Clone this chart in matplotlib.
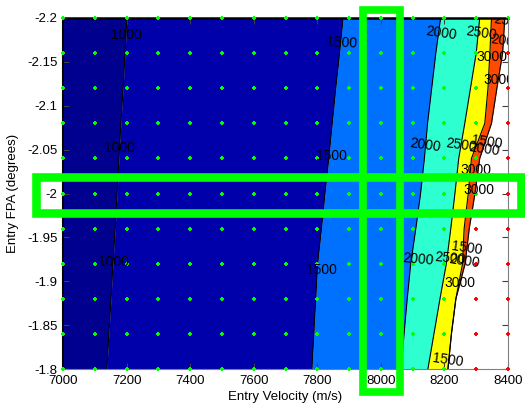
import matplotlib
matplotlib.use('Agg')
import matplotlib.pyplot as plt
from matplotlib.patches import Rectangle

plt.rcParams['font.family'] = ['Liberation Sans', 'DejaVu Sans']

# sample grid (dots)
velocity = [7000, 7100, 7200, 7300, 7400, 7500, 7600, 7700,
            7800, 7900, 8000, 8100, 8200, 8300, 8400]
fpa = [-2.2, -2.16, -2.12, -2.08, -2.04, -2.0, -1.96, -1.92, -1.88, -1.84, -1.8]
# number of converged cases in each fpa row (rest are failures, red)
n_ok = [15, 14, 14, 14, 14, 14, 13, 13, 13, 13, 13]

# contour crossings (entry velocity) for each fpa row
c1000 = [7201, 7195, 7189, 7182, 7176, 7170, 7164, 7157, 7151, 7144, 7138]
c1500 = [7881, 7870, 7858, 7847, 7836, 7824, 7813, 7801, 7795, 7789, 7783]
c2000 = [8188, 8173, 8160, 8147, 8137, 8125, 8110, 8094, 8083, 8073, 8064]
c2500 = [8311, 8300, 8282, 8264, 8245, 8233, 8220, 8206, 8186, 8167, 8148]
c3000 = [8348, 8343, 8337, 8327, 8285, 8275, 8262, 8257, 8236, 8222, 8211]
c_edge = [8390, 8383, 8365, 8348, 8311, 8296, 8278, 8265, 8236, 8222, 8211]

band_colors = ['#00008f', '#0000aa', '#0070ff', '#2effd0', '#ffff00', '#ff4a00']

# contour labels
lab_text = ['1000', '1000', '1000', '1500', '1500', '1500', '2000', '2500',
            '3000', '3000', '2500', '2000', '2000', '2500', '1500', '2000',
            '3000', '3000', '2000', '2500', '1500', '2000', '3000', '1500']
lab_x = [7201, 7179, 7160, 7878, 7843, 7812, 8189, 8315,
         8349, 8371, 8403, 8393, 8139, 8252, 8334, 8324,
         8299, 8309, 8117, 8217, 8271, 8262, 8249, 8211]
lab_y = [-2.181, -2.052, -1.922, -2.172, -2.043, -1.913, -2.183, -2.183,
         -2.156, -2.129, -2.196, -2.173, -2.055, -2.055, -2.059, -2.050,
         -2.027, -2.004, -1.925, -1.926, -1.938, -1.923, -1.898, -1.810]
lab_rot = [0, 0, 0, -3, 0, 0, -8, -8,
           0, 0, -8, -8, -8, -8, -8, -8,
           0, 0, -5, -5, -8, -8, 0, -8]

fig = plt.figure(figsize=(5.25, 4.07), dpi=100)
ax = fig.add_axes([63 / 525, 1 - 369 / 407, 445 / 525, 351 / 407])

bounds = [[velocity[0]] * len(fpa), c1000, c1500, c2000, c2500, c3000, c_edge]
for k in range(len(band_colors)):
    ax.fill_betweenx(fpa, bounds[k], bounds[k + 1], color=band_colors[k], lw=0)
for c in bounds[1:]:
    ax.plot(c, fpa, color='black', lw=0.8)

# sample points
for i, y in enumerate(fpa):
    ok = velocity[:n_ok[i]]
    bad = velocity[n_ok[i]:]
    ax.plot(ok, [y] * len(ok), '+', color='#00ff00', ms=3, mew=1.4, clip_on=False, zorder=5)
    ax.plot(bad, [y] * len(bad), '+', color='#ff0000', ms=3, mew=1.4, clip_on=False, zorder=5)

for t, x, y, r in zip(lab_text, lab_x, lab_y, lab_rot):
    ax.text(x, y, t, ha='center', va='center', rotation=r, fontsize=10,
            color='black', clip_on=True, zorder=6)

ax.set_xlim(7000, 8400)
ax.set_ylim(-1.8, -2.2)
ax.set_xticks([7000, 7200, 7400, 7600, 7800, 8000, 8200, 8400])
ax.set_yticks([-2.2, -2.15, -2.1, -2.05, -2.0, -1.95, -1.9, -1.85, -1.8])
ax.set_yticklabels(['-2.2', '-2.15', '-2.1', '-2.05', '-2', '-1.95', '-1.9', '-1.85', '-1.8'])
ax.tick_params(direction='in', length=4, top=True, right=True, labelsize=9.5, pad=4,
               colors='#404040', labelcolor='black')
ax.set_xlabel('Entry Velocity (m/s)', fontsize=9.5, labelpad=3)
ax.set_ylabel('Entry FPA (degrees)', fontsize=9.5, labelpad=6)

ax.spines['top'].set_color('black')
ax.spines['top'].set_linewidth(1.8)
ax.spines['left'].set_color('black')
ax.spines['left'].set_linewidth(1.5)
ax.spines['right'].set_color('#808080')
ax.spines['bottom'].set_color('#808080')

# highlight boxes (figure pixels)
W, H = 525, 407
fig.patches.append(Rectangle((363 / W, 1 - 392 / H), 37 / W, 382 / H, transform=fig.transFigure,
                             fill=False, ec='#00ff00', lw=5.5, zorder=10))
fig.patches.append(Rectangle((36 / W, 1 - 213 / H), 485 / W, 36 / H, transform=fig.transFigure,
                             fill=False, ec='#00ff00', lw=6.2, zorder=10))

fig.savefig('out.png', dpi=100)
